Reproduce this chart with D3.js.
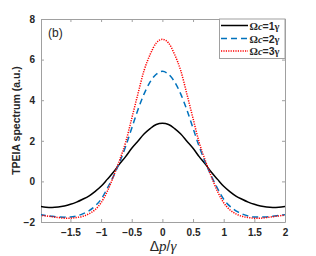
<!DOCTYPE html>
<html>
<head>
<meta charset="utf-8">
<script src="https://cdn.jsdelivr.net/npm/d3@7"></script>
<style>
  body { margin: 0; background: #fff; }
  svg { display: block; }
  .tick text { font-family: "Liberation Sans", Arial, sans-serif; font-weight: bold; font-size: 10px; fill: #262626; }
</style>
</head>
<body>
<div id="chart"></div>
<script>
// detuning, step 0.1 from -2 to 2
const xs = [-2.0,-1.9,-1.8,-1.7,-1.6,-1.5,-1.4,-1.3,-1.2,-1.1,-1.0,-0.9,-0.8,-0.7,-0.6,-0.5,-0.4,-0.3,-0.2,-0.1,
  0.0,0.1,0.2,0.3,0.4,0.5,0.6,0.7,0.8,0.9,1.0,1.1,1.2,1.3,1.4,1.5,1.6,1.7,1.8,1.9,2.0];

const omega1 = [-1.23,-1.27,-1.28,-1.26,-1.21,-1.13,-1.02,-0.88,-0.72,-0.50,-0.24,0.10,0.45,0.85,1.22,1.63,1.98,2.33,2.60,2.80,
  2.86,2.80,2.60,2.33,1.98,1.63,1.22,0.85,0.45,0.10,-0.24,-0.50,-0.72,-0.88,-1.02,-1.13,-1.21,-1.26,-1.28,-1.27,-1.23];

const omega2 = [-1.64,-1.68,-1.72,-1.75,-1.76,-1.75,-1.70,-1.60,-1.45,-1.22,-0.88,-0.35,0.25,0.93,1.72,2.62,3.52,4.30,4.90,5.28,
  5.42,5.28,4.90,4.30,3.52,2.62,1.72,0.93,0.25,-0.35,-0.88,-1.22,-1.45,-1.60,-1.70,-1.75,-1.76,-1.75,-1.72,-1.68,-1.64];

const omega3 = [-1.66,-1.70,-1.74,-1.78,-1.81,-1.81,-1.78,-1.72,-1.60,-1.40,-1.05,-0.50,0.23,1.03,1.92,3.10,4.30,5.45,6.25,6.82,
  7.00,6.82,6.25,5.45,4.30,3.10,1.92,1.03,0.23,-0.50,-1.05,-1.40,-1.60,-1.72,-1.78,-1.81,-1.81,-1.78,-1.74,-1.70,-1.66];

const xTicks = [-1.5,-1,-0.5,0,0.5,1,1.5,2];
const yTicks = [-2,0,2,4,6,8];
const legendNames = ["1", "2", "3"];

const W = 316, H = 256;
const m = {left: 41, right: 31, top: 19, bottom: 34};

const svg = d3.select("#chart").append("svg").attr("width", W).attr("height", H);

const x = d3.scaleLinear().domain([-1.98, 2]).range([m.left, W - m.right]);
const y = d3.scaleLinear().domain([-2, 8]).range([H - m.bottom, m.top]);

const series = [
  {vals: omega1, color: "#000000", dash: null, width: 1.5},
  {vals: omega2, color: "#0072BD", dash: "6,4", width: 1.5},
  {vals: omega3, color: "#ff0000", dash: "1.2,1.2", width: 1.5}
];

const axisColor = "#262626";

// axes with inward ticks
svg.append("g").attr("transform", `translate(0,${H - m.bottom})`)
  .call(d3.axisBottom(x).tickValues(xTicks).tickSizeInner(-3).tickSizeOuter(0).tickPadding(7)
    .tickFormat(d3.format("")));
svg.append("g").attr("transform", `translate(0,${m.top})`)
  .call(d3.axisTop(x).tickValues(xTicks).tickSizeInner(-3).tickSizeOuter(0).tickFormat(""));
svg.append("g").attr("transform", `translate(${m.left},0)`)
  .call(d3.axisLeft(y).tickValues(yTicks).tickSizeInner(-3).tickSizeOuter(0).tickPadding(6));
svg.append("g").attr("transform", `translate(${W - m.right},0)`)
  .call(d3.axisRight(y).tickValues(yTicks).tickSizeInner(-3).tickSizeOuter(0).tickFormat(""));

svg.selectAll(".domain").attr("stroke", "#a0a0a0").attr("stroke-width", 1);
svg.selectAll(".tick line").attr("stroke", "#a0a0a0");

// curves
const line = d3.line().x((d, i) => x(xs[i])).y(d => y(d)).curve(d3.curveMonotoneX);
svg.append("clipPath").attr("id", "clip").append("rect")
  .attr("x", m.left).attr("y", m.top).attr("width", W - m.left - m.right).attr("height", H - m.top - m.bottom);

svg.append("g").attr("clip-path", "url(#clip)")
  .selectAll("path").data(series).join("path")
  .attr("d", d => line(d.vals))
  .attr("fill", "none")
  .attr("stroke", d => d.color)
  .attr("stroke-width", d => d.width)
  .attr("stroke-dasharray", d => d.dash);

// (b)
svg.append("text").attr("x", 48).attr("y", 37)
  .attr("font-family", "Liberation Sans, Arial, sans-serif").attr("font-size", 12).attr("fill", axisColor)
  .text("(b)");

// legend
const lg = svg.append("g");
lg.append("rect").attr("x", 219.5).attr("y", m.top).attr("width", W - m.right - 219.5).attr("height", 39.5)
  .attr("fill", "#fff").attr("stroke", "#a0a0a0").attr("stroke-width", 1);
const rows = [25.5, 38.5, 51];
series.forEach((s, i) => {
  lg.append("line").attr("x1", 221).attr("x2", 248).attr("y1", rows[i]).attr("y2", rows[i])
    .attr("stroke", s.color).attr("stroke-width", s.width).attr("stroke-dasharray", s.dash);
  const t = lg.append("text").attr("x", 249.5).attr("y", rows[i] + 4)
    .attr("font-size", 10.5).attr("font-weight", "bold").attr("fill", axisColor);
  t.append("tspan").attr("font-family", "Liberation Serif, serif").text("Ω");
  t.append("tspan").attr("font-family", "Liberation Serif, serif").attr("font-style", "italic").text("c");
  t.append("tspan").attr("font-family", "Liberation Sans, Arial, sans-serif").text("=" + legendNames[i]);
  t.append("tspan").attr("font-family", "Liberation Serif, serif").text("γ");
});

// axis labels
const xl = svg.append("text").attr("x", 163).attr("y", 250.5).attr("text-anchor", "middle")
  .attr("font-size", 14).attr("fill", axisColor);
xl.append("tspan").attr("font-family", "Liberation Sans, Arial, sans-serif").text("Δ");
xl.append("tspan").attr("font-family", "Liberation Serif, serif").attr("font-style", "italic").attr("font-size", 15).text("p");
xl.append("tspan").attr("font-family", "Liberation Sans, Arial, sans-serif").text("/");
xl.append("tspan").attr("font-family", "Liberation Serif, serif").attr("font-style", "italic").attr("font-size", 15).text("γ");

svg.append("text").attr("transform", `translate(20,${(m.top + H - m.bottom) / 2}) rotate(-90)`)
  .attr("text-anchor", "middle")
  .attr("font-family", "Liberation Sans, Arial, sans-serif").attr("font-weight", "bold").attr("font-size", 10.5)
  .attr("fill", axisColor)
  .text("TPEIA spectrum (a.u.)");
</script>
</body>
</html>
